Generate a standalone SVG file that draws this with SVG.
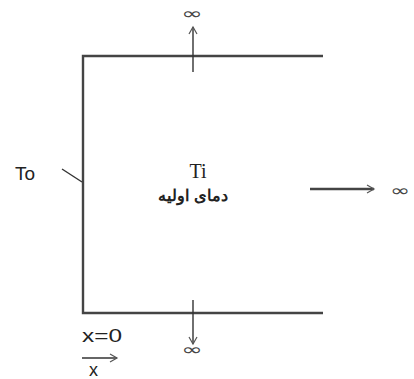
<svg xmlns="http://www.w3.org/2000/svg" width="414" height="379" viewBox="0 0 414 379">
<defs>
<marker id="ah" markerWidth="10" markerHeight="10" refX="8" refY="5" orient="auto" markerUnits="userSpaceOnUse">
<polyline points="1,1 8,5 1,9" fill="none" stroke="#555" stroke-width="1.2"/>
</marker>
<style>
.w{stroke:#444;stroke-width:2.4;fill:none}
.a{stroke:#333;stroke-width:1.4;fill:none}
.t{font-family:"Liberation Sans",Arial,sans-serif;fill:#222}
.inf{font-family:"DejaVu Sans",sans-serif;fill:#444;font-size:16px}
</style>
</defs>
<rect width="414" height="379" fill="#fff"/>
<g id="walls">
<polyline class="w" points="323,56 83,56 83,313 323,313"/>
</g>
<g id="connectors">
<line class="a" x1="193" y1="72" x2="193" y2="27" marker-end="url(#ah)"/>
<line class="a" x1="193" y1="300" x2="193" y2="344" marker-end="url(#ah)"/>
<line class="w" x1="310" y1="189" x2="374" y2="189" marker-end="url(#ah)"/>
<line class="a" x1="62" y1="169" x2="82" y2="182"/>
<line class="a" x1="82" y1="358" x2="117" y2="358" marker-end="url(#ah)"/>
</g>
<g id="top-inf"><text class="inf" x="192" y="19" text-anchor="middle" transform="translate(192,0) scale(1.6,1) translate(-192,0)">∞</text></g>
<g id="bottom-inf"><text class="inf" x="192" y="355" text-anchor="middle" transform="translate(192,0) scale(1.6,1) translate(-192,0)">∞</text></g>
<g id="right-inf"><text class="inf" x="400" y="196" text-anchor="middle" transform="translate(400,0) scale(1.5,1) translate(-400,0)">∞</text></g>
<g id="T0"><text class="t" x="15" y="180" font-size="19">To</text></g>
<g id="Ti">
<text x="198" y="178" font-size="20" text-anchor="middle" font-family="'Liberation Serif','Times New Roman',serif" fill="#222">Ti</text>
<text class="t" x="193" y="201" font-size="16" text-anchor="middle" font-weight="bold" font-family="'DejaVu Sans',sans-serif">دمای اولیه</text>
</g>
<g id="origin">
<text class="t" x="82" y="342" font-size="19" textLength="40" lengthAdjust="spacingAndGlyphs">x=0</text>
<text class="t" x="89" y="376" font-size="18">x</text>
</g>
</svg>
